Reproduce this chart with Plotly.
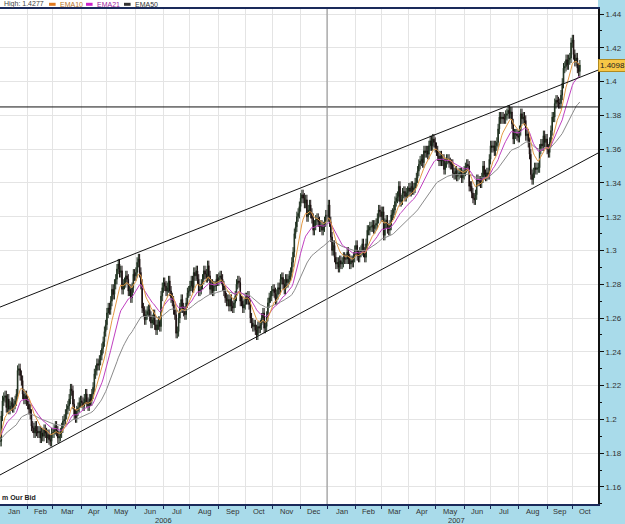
import pandas as pd
import plotly.graph_objects as go

# Daily closes, in 1/10000 above 1.0000 (e.g. 2150 -> 1.2150), one list per month
C_2006_01 = [1870, 2020, 2110, 2130, 2140, 2070, 2120, 2060, 2080, 2100, 2070, 2090, 2110, 2150, 2290, 2300, 2260, 2230, 2150, 2120, 2140, 2110]
C_2006_02 = [2090, 2060, 2030, 1960, 1950, 1920, 1960, 1930, 1920, 1930, 1890, 1920, 1900, 1940, 1920, 1890, 1910, 1880, 1870, 1920]
C_2006_03 = [1920, 1940, 1960, 1930, 1890, 1900, 1920, 1950, 1990, 2000, 2030, 2060, 2080, 2120, 2180, 2170, 2090, 2030, 2010, 2050, 2070, 2100, 2110]
C_2006_04 = [2100, 2080, 2120, 2150, 2100, 2080, 2120, 2110, 2150, 2190, 2270, 2290, 2330, 2320, 2350, 2380, 2420, 2460, 2520, 2560]
C_2006_05 = [2630, 2660, 2650, 2700, 2770, 2740, 2800, 2830, 2890, 2920, 2870, 2880, 2770, 2800, 2810, 2850, 2830, 2760, 2770, 2720, 2780, 2860, 2850]
C_2006_06 = [2870, 2930, 2950, 2870, 2800, 2660, 2640, 2590, 2620, 2640, 2650, 2610, 2570, 2590, 2620, 2560, 2530, 2560, 2580, 2550, 2730, 2780]
C_2006_07 = [2810, 2790, 2760, 2780, 2820, 2760, 2720, 2700, 2650, 2620, 2510, 2520, 2600, 2660, 2710, 2660, 2640, 2620, 2690, 2750, 2760]
C_2006_08 = [2790, 2820, 2780, 2870, 2850, 2880, 2830, 2760, 2770, 2800, 2830, 2880, 2860, 2840, 2910, 2850, 2770, 2800, 2760, 2790, 2790, 2830, 2820]
C_2006_09 = [2840, 2850, 2830, 2790, 2760, 2720, 2700, 2710, 2670, 2710, 2670, 2660, 2690, 2730, 2800, 2820, 2810, 2700, 2700, 2660, 2680]
C_2006_10 = [2720, 2710, 2730, 2680, 2600, 2570, 2550, 2560, 2530, 2500, 2550, 2540, 2560, 2600, 2630, 2540, 2550, 2610, 2690, 2720, 2730, 2760]
C_2006_11 = [2770, 2750, 2710, 2740, 2780, 2770, 2830, 2840, 2800, 2770, 2830, 2810, 2830, 2850, 2870, 2930, 2990, 3100, 3140, 3200, 3220, 3260]
C_2006_12 = [3310, 3330, 3310, 3280, 3300, 3200, 3240, 3270, 3220, 3190, 3120, 3150, 3180, 3190, 3170, 3140, 3150, 3120, 3140, 3170, 3210]
C_2007_01 = [3200, 3270, 3170, 3080, 3000, 3030, 2960, 2920, 2930, 2900, 2940, 2920, 2930, 2960, 2950, 2950, 2990, 2950, 2920, 2940, 2930, 2960, 3000]
C_2007_02 = [3030, 2970, 2960, 2990, 3000, 3040, 2990, 2960, 3040, 3120, 3120, 3140, 3140, 3150, 3130, 3150, 3160, 3190, 3240, 3230]
C_2007_03 = [3200, 3230, 3090, 3160, 3180, 3130, 3120, 3150, 3210, 3220, 3240, 3290, 3310, 3320, 3380, 3290, 3300, 3340, 3350, 3320, 3340, 3350]
C_2007_04 = [3370, 3350, 3380, 3360, 3370, 3400, 3430, 3470, 3510, 3530, 3540, 3520, 3590, 3580, 3590, 3570, 3620, 3650, 3620, 3660, 3640]
C_2007_05 = [3610, 3590, 3560, 3530, 3560, 3530, 3540, 3480, 3520, 3540, 3540, 3520, 3510, 3510, 3460, 3450, 3470, 3440, 3450, 3460, 3460, 3430, 3450]
C_2007_06 = [3470, 3490, 3510, 3500, 3380, 3380, 3340, 3310, 3300, 3330, 3420, 3410, 3410, 3400, 3430, 3500, 3450, 3440, 3460, 3450, 3540]
C_2007_07 = [3620, 3610, 3620, 3590, 3620, 3640, 3720, 3790, 3780, 3790, 3780, 3780, 3800, 3810, 3830, 3810, 3820, 3750, 3660, 3690, 3690, 3680]
C_2007_08 = [3670, 3710, 3810, 3780, 3790, 3770, 3680, 3690, 3640, 3570, 3450, 3420, 3460, 3490, 3480, 3490, 3490, 3600, 3630, 3620, 3680, 3640, 3660]
C_2007_09 = [3600, 3580, 3640, 3710, 3790, 3790, 3870, 3890, 3880, 3870, 3870, 3920, 3990, 4080, 4090, 4130, 4100, 4130, 4140, 4230]
C_2007_10 = [4247, 4160, 4120, 4140, 4080, 4060, 4098]

WICK_PIPS = 30  # typical wick beyond the body, in 1/10000

EMA_SEEDS = {"EMA10": 1.1900, "EMA21": 1.1900, "EMA50": 1.1880}
EMA_PERIODS = {"EMA10": 10, "EMA21": 21, "EMA50": 50}
EMA_COLORS = {"EMA10": "#E39A45", "EMA21": "#C040C0", "EMA50": "#8A8A8A"}
EMA_KEY_COLORS = {"EMA10": "#E07A20", "EMA21": "#CC22CC", "EMA50": "#333333"}
EMA_TEXT_COLORS = {"EMA10": "#B8742A", "EMA21": "#A020A0", "EMA50": "#333333"}

# Drawn reference lines (price levels at left/right plot edge)
UPPER_TREND = [1.2665, 1.4068]
LOWER_TREND = [1.1671, 1.3577]
RESISTANCE = 1.3850
YEAR_DIVIDER = "2007-01-01"

MONTH_LABELS = ["Jan", "Feb", "Mar", "Apr", "May", "Jun", "Jul", "Aug", "Sep", "Oct", "Nov", "Dec",
                "Jan", "Feb", "Mar", "Apr", "May", "Jun", "Jul", "Aug", "Sep", "Oct"]
YEAR_LABELS = ["2006", "2007"]
YEAR_LABEL_X = ["2006-07-01", "2007-05-24"]

X_START = "2006-01-02 00:00"
X_END = "2007-10-29 10:00"
Y_RANGE = [1.1499, 1.4430]

months = [C_2006_01, C_2006_02, C_2006_03, C_2006_04, C_2006_05, C_2006_06,
          C_2006_07, C_2006_08, C_2006_09, C_2006_10, C_2006_11, C_2006_12,
          C_2007_01, C_2007_02, C_2007_03, C_2007_04, C_2007_05, C_2007_06,
          C_2007_07, C_2007_08, C_2007_09, C_2007_10]
pips = [v for m in months for v in m]
close = [1 + v / 10000 for v in pips]
dates = pd.bdate_range("2006-01-02", periods=len(close))

opn = [close[0]] + close[:-1]
wick = WICK_PIPS / 10000
high = [max(o, c) + wick for o, c in zip(opn, close)]
low = [min(o, c) - wick for o, c in zip(opn, close)]

def ema(values, n, seed):
    k = 2 / (n + 1)
    out, e = [], seed
    for v in values:
        e = e + k * (v - e)
        out.append(e)
    return out

# month-label positions: middle of each month's visible weekday span
axis_days = pd.bdate_range("2006-01-02", "2007-11-30")
x_end_ts = pd.Timestamp(X_END)
end_pos = axis_days.searchsorted(x_end_ts.normalize()) + (x_end_ts - x_end_ts.normalize()) / pd.Timedelta(days=1)
periods = axis_days.to_period("M")
month_mid = []
for per in periods.unique()[:len(MONTH_LABELS)]:
    idx = [i for i, p in enumerate(periods) if p == per]
    a, b = idx[0], min(idx[-1] + 1, end_pos)
    f = (a + b) / 2
    month_mid.append(axis_days[int(f)] + pd.Timedelta(days=f - int(f)))

fig = go.Figure()
for name in ["EMA50", "EMA21", "EMA10"]:
    fig.add_trace(go.Scatter(x=dates, y=ema(close, EMA_PERIODS[name], EMA_SEEDS[name]),
                             mode="lines", line=dict(color=EMA_COLORS[name], width=1),
                             hoverinfo="skip", showlegend=False))

fig.add_trace(go.Candlestick(
    x=dates, open=opn, high=high, low=low, close=close,
    increasing=dict(line=dict(color="#1E2E1E", width=1), fillcolor="#2F6B35"),
    decreasing=dict(line=dict(color="#1A1010", width=1), fillcolor="#5A1818"),
    whiskerwidth=0, showlegend=False))

for tl in (UPPER_TREND, LOWER_TREND):
    fig.add_trace(go.Scatter(x=[X_START, X_END], y=tl, mode="lines",
                             line=dict(color="#111111", width=1), hoverinfo="skip",
                             showlegend=False))

fig.add_shape(type="line", xref="paper", x0=0, x1=1, yref="y", y0=RESISTANCE, y1=RESISTANCE,
              line=dict(color="#111111", width=1))
fig.add_shape(type="line", xref="x", x0=YEAR_DIVIDER, x1=YEAR_DIVIDER, yref="paper", y0=0, y1=1,
              line=dict(color="#8C8C8C", width=1))
# white strip above plot (legend area)
fig.add_shape(type="rect", xref="paper", x0=0, x1=1, yref="paper", y0=1, y1=1.05,
              fillcolor="white", line=dict(width=0), layer="below")

FONT = "Liberation Sans, Arial, sans-serif"

# top legend strip
LEG_Y = 1.0095
hi = max(high)
fig.add_annotation(xref="paper", yref="paper", x=0.003, y=LEG_Y, text=f"High: {hi:.4f}", showarrow=False,
                   xanchor="left", yanchor="middle", font=dict(family=FONT, size=7, color="#444444"))
key_x = {"EMA10": 0.082, "EMA21": 0.1438, "EMA50": 0.2074}
for name in ["EMA10", "EMA21", "EMA50"]:
    fig.add_shape(type="line", xref="paper", yref="paper", x0=key_x[name], x1=key_x[name] + 0.011,
                  y0=LEG_Y, y1=LEG_Y, line=dict(color=EMA_KEY_COLORS[name], width=3))
    fig.add_annotation(xref="paper", yref="paper", x=key_x[name] + 0.015, y=LEG_Y, text=name,
                       showarrow=False, xanchor="left", yanchor="middle",
                       font=dict(family=FONT, size=7, color=EMA_TEXT_COLORS[name]))

# last price label
fig.add_annotation(xref="paper", yref="y", x=1.0, y=close[-1], text=f"{close[-1]:.4f}",
                   showarrow=False, xanchor="left", yanchor="middle", bgcolor="#F7C746",
                   bordercolor="#B08A20", borderwidth=1, borderpad=1,
                   font=dict(family=FONT, size=8, color="#222222"))

for lbl, xd in zip(MONTH_LABELS, month_mid):
    fig.add_annotation(xref="x", yref="paper", x=xd, y=-0.0145, text=lbl, showarrow=False,
                       xanchor="center", yanchor="middle", font=dict(family=FONT, size=7.5, color="#333333"))
for lbl, xd in zip(YEAR_LABELS, YEAR_LABEL_X):
    fig.add_annotation(xref="x", yref="paper", x=xd, y=-0.0325, text=lbl, showarrow=False,
                       xanchor="center", yanchor="middle", font=dict(family=FONT, size=7.5, color="#333333"))

fig.add_annotation(xref="paper", yref="paper", x=0, y=0.013, text="<b>m Our Bid</b>", showarrow=False,
                   xanchor="left", yanchor="middle", font=dict(family=FONT, size=7, color="#222222"))

fig.update_layout(
    width=625, height=524, margin=dict(l=0, r=27, t=9, b=20),
    paper_bgcolor="#A9DBEA", plot_bgcolor="white",
    showlegend=False, font=dict(family=FONT, size=8, color="#333333"),
    xaxis=dict(type="date", range=[X_START, X_END], rangebreaks=[dict(bounds=["sat", "mon"])],
               rangeslider=dict(visible=False), dtick="M1", tick0="2006-01-01",
               showticklabels=False, ticks="outside", ticklen=3,
               tickcolor="#1A2A5A", showgrid=True, gridcolor="#E4E4E4", gridwidth=1,
               showline=True, linecolor="#1A2A5A", linewidth=2, mirror=True, zeroline=False),
    yaxis=dict(side="right", range=Y_RANGE, tickmode="linear", tick0=1.16, dtick=0.02,
               ticks="outside", ticklen=4, tickcolor="#111111", showgrid=True,
               gridcolor="#E4E4E4", showline=True, linecolor="#111111", linewidth=2,
               tickfont=dict(family=FONT, size=8, color="#333333"), zeroline=False,
               minor=dict(dtick=0.01, tick0=1.15, ticks="outside", ticklen=2,
                          tickcolor="#111111", showgrid=False)),
)

fig.write_html("out.html")
